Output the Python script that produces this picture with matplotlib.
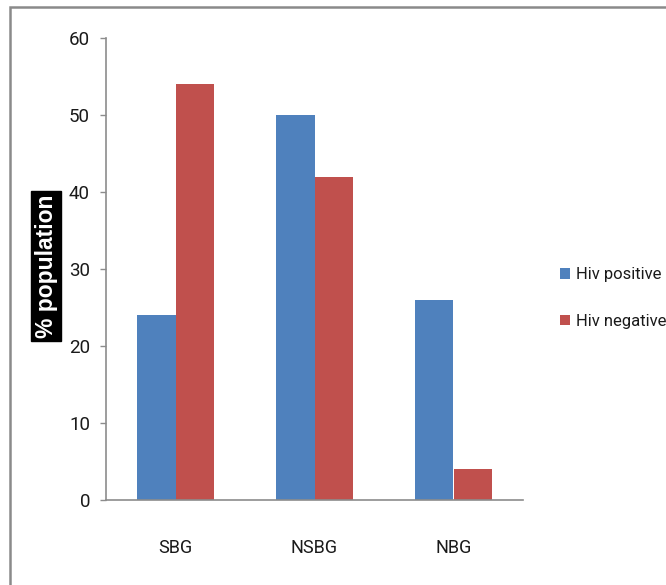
import numpy as np
import matplotlib.pyplot as plt
from matplotlib.patches import Rectangle

# donnees
categories = ["SBG", "NSBG", "NBG"]
hiv_positive = [24, 50, 26]
hiv_negative = [54, 42, 4]
yticks = [0, 10, 20, 30, 40, 50, 60]

plt.rcParams['font.family'] = ['Roboto', 'DejaVu Sans']

fig = plt.figure(figsize=(6.66, 5.85), dpi=100)
ax = fig.add_axes([106/666, 1 - 500/585, 417/666, 462/585])

x = np.arange(len(categories))
w = 0.28
ax.bar(x - w/2, hiv_positive, w, color="#4F81BD", label="Hiv positive")
ax.bar(x + w/2, hiv_negative, w, color="#C0504D", label="Hiv negative")

ax.set_xlim(-0.5, 2.5)
ax.set_ylim(0, 60)
ax.set_yticks(yticks)
ax.set_xticks(x)
ax.set_xticklabels(categories)

for s in ["top", "right"]:
    ax.spines[s].set_visible(False)
for s in ["left", "bottom"]:
    ax.spines[s].set_color("#8c8c8c")
    ax.spines[s].set_linewidth(1.2)

ax.tick_params(axis="y", length=4.5, width=1, color="#8c8c8c", pad=7,
               labelsize=13.5, labelcolor="#1a1a1a")
ax.tick_params(axis="x", length=0, pad=28, labelsize=13, labelcolor="#1a1a1a")

# etiquette axe y, texte blanc sur fond noir
ax.text(-60/417, 0.506, "% population", transform=ax.transAxes, rotation=90,
        ha="center", va="center", color="white", fontsize=16.5, fontweight="bold",
        family=["Liberation Sans", "DejaVu Sans"],
        bbox=dict(boxstyle="square,pad=0.15", facecolor="black", edgecolor="black"))

leg = fig.legend(loc="center left", bbox_to_anchor=(545/666, 1 - 298/585),
                 frameon=False, fontsize=12, handlelength=0.6, handleheight=0.6,
                 handletextpad=0.35, labelspacing=1.9)
for t in leg.get_texts():
    t.set_color("#1a1a1a")

# cadre du graphique
fig.patches.append(Rectangle((10/666, -0.1), 1.2, 1 - 7/585 + 0.1,
                             transform=fig.transFigure, fill=False,
                             edgecolor="#8a8a8a", linewidth=1.8))

fig.savefig("out.png", dpi=100)
